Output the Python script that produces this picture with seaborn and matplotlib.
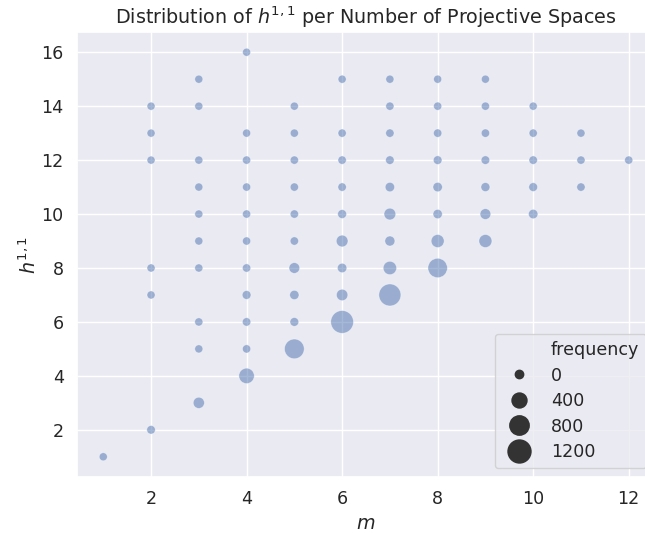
import numpy as np
import pandas as pd
import matplotlib
matplotlib.use("Agg")
import matplotlib.pyplot as plt
from matplotlib.lines import Line2D
import seaborn as sns

# ----------------------
# Data: number of projective spaces (m), h11 and count of CICYs at each pair
# ----------------------
m = [1,
     2, 2, 2, 2, 2, 2,
     3, 3, 3, 3, 3, 3, 3, 3, 3, 3,
     4, 4, 4, 4, 4, 4, 4, 4, 4, 4, 4,
     5, 5, 5, 5, 5, 5, 5, 5, 5, 5,
     6, 6, 6, 6, 6, 6, 6, 6, 6,
     7, 7, 7, 7, 7, 7, 7, 7, 7,
     8, 8, 8, 8, 8, 8, 8, 8,
     9, 9, 9, 9, 9, 9, 9,
     10, 10, 10, 10, 10,
     11, 11, 11,
     12]
h11 = [1,
       2, 7, 8, 12, 13, 14,
       3, 5, 6, 8, 9, 10, 11, 12, 14, 15,
       4, 5, 6, 7, 8, 9, 10, 11, 12, 13, 16,
       5, 6, 7, 8, 9, 10, 11, 12, 13, 14,
       6, 7, 8, 9, 10, 11, 12, 13, 15,
       7, 8, 9, 10, 11, 12, 13, 14, 15,
       8, 9, 10, 11, 12, 13, 14, 15,
       9, 10, 11, 12, 13, 14, 15,
       10, 11, 12, 13, 14,
       11, 12, 13,
       12]
frequency = [5,
             25, 5, 5, 3, 3, 3,
             166, 5, 8, 5, 4, 4, 4, 5, 3, 3,
             470, 12, 20, 35, 15, 8, 8, 8, 10, 5, 2,
             875, 35, 60, 137, 15, 15, 12, 12, 8, 5,
             1220, 180, 66, 200, 40, 18, 15, 10, 5,
             1135, 312, 98, 200, 66, 25, 15, 10, 5,
             845, 285, 60, 66, 30, 15, 8, 4,
             285, 140, 45, 25, 15, 8, 4,
             66, 35, 20, 10, 5,
             15, 10, 5,
             8]

legend_levels = [0, 400, 800, 1200]

df = pd.DataFrame({"m": m, "h11": h11, "frequency": frequency})

# ----------------------
# Plot settings
# ----------------------
sns.set_theme(style="darkgrid", font_scale=1.15)

SIZES = (33, 283)
SIZE_NORM = (0, 1300)

fig = plt.figure(figsize=(6.45, 5.33), dpi=100)
ax = fig.add_axes([77 / 645, 56 / 533, 578 / 645, 445 / 533])

sns.scatterplot(data=df, x="m", y="h11", size="frequency",
                sizes=SIZES, size_norm=SIZE_NORM,
                alpha=0.5, edgecolor="w", linewidth=0.5,
                legend=False, ax=ax)

# ----------------------
# Legend in the old seaborn style (variable name as first entry)
# ----------------------
handles = [Line2D([], [], linestyle="", marker="")]
labels = ["frequency"]
for v in legend_levels:
    frac = min(max((v - SIZE_NORM[0]) / (SIZE_NORM[1] - SIZE_NORM[0]), 0), 1)
    s = SIZES[0] + frac * (SIZES[1] - SIZES[0])
    handles.append(Line2D([], [], linestyle="", marker="o",
                          markersize=np.sqrt(s), color=".2",
                          markeredgewidth=1.3))
    labels.append(str(v))
ax.legend(handles, labels, loc="lower right", labelspacing=0.43)

ax.set_title("Distribution of $h^{1,1}$ per Number of Projective Spaces")
ax.set_xlabel("$m$")
ax.set_ylabel("$h^{1,1}$", labelpad=1)

fig.savefig("out.png", dpi=100)
